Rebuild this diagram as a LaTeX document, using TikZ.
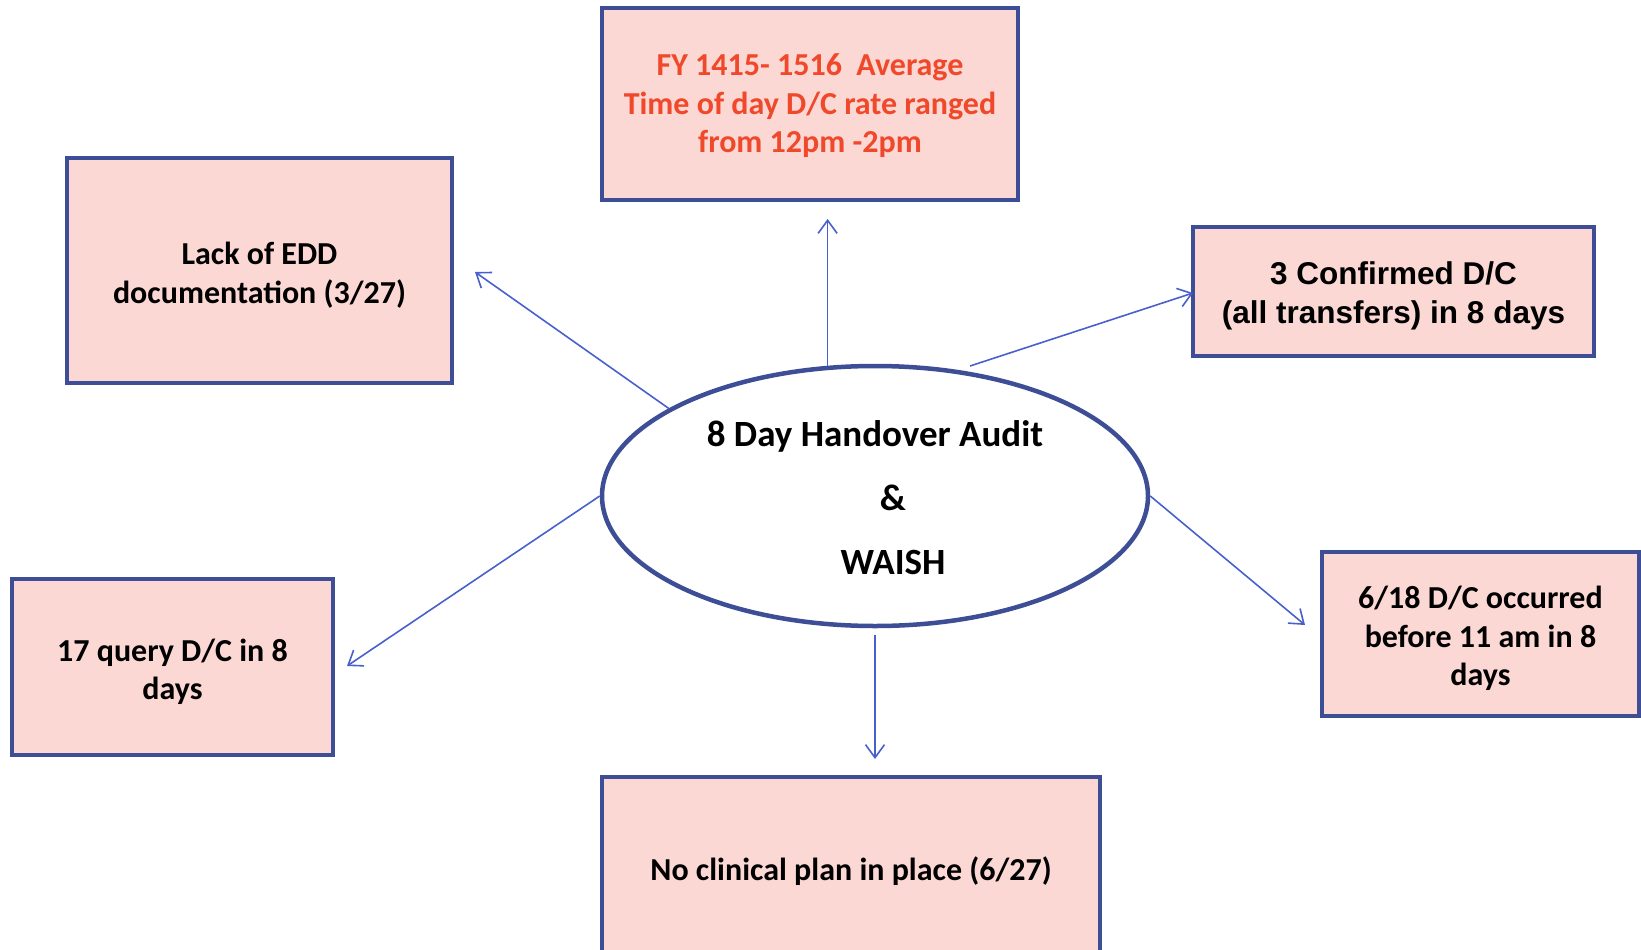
\documentclass[tikz,border=0pt]{standalone}
\usepackage{fontspec}
\setmainfont{Carlito}
\newfontfamily\arialf{Liberation Sans}
\usetikzlibrary{arrows.meta,shapes.geometric}
\definecolor{boxblue}{RGB}{62,78,150}
\definecolor{arrblue}{RGB}{72,96,204}
\definecolor{boxpink}{RGB}{251,216,211}
\definecolor{redtxt}{RGB}{240,72,42}
\newcommand\tstrut{\rule{0pt}{1em}}
\newcommand\estrut{\rule{0pt}{0.8em}}
\tikzset{
  infobox/.style={rectangle, draw=boxblue, line width=4pt, fill=boxpink, align=center, inner sep=0pt,
    font=\bfseries\fontsize{32}{38.5}\selectfont},
  arr/.style={draw=arrblue, line width=1.6pt, -{Straight Barb[length=13pt,width=19pt]}},
}
\begin{document}
\begin{tikzpicture}[x=1pt,y=-1pt]
\useasboundingbox (0,0) rectangle (1641,950);
\clip (0,0) rectangle (1641,950);

\node[infobox, minimum width=416, minimum height=192, text=redtxt] (top) at (810,104)
  {\estrut FY 1415- 1516\ \ Average\\Time of day D/C rate ranged\\from 12pm -2pm};
\node[infobox, minimum width=385, minimum height=225] (ul) at (259.5,270.5)
  {\tstrut Lack of EDD\\documentation (3/27)};
\node[infobox, minimum width=401, minimum height=129, font=\arialf\bfseries\fontsize{31.5}{38.5}\selectfont] (ur) at (1393.5,291.5)
  {\tstrut 3 Confirmed D/C\\(all transfers) in 8 days};
\node[infobox, minimum width=321, minimum height=176] (ll) at (172.5,667)
  {\tstrut 17 query D/C in 8\\days};
\node[infobox, minimum width=317, minimum height=164] (lr) at (1480.5,634)
  {\tstrut 6/18 D/C occurred\\before 11 am in 8\\days};
\node[infobox, minimum width=498, minimum height=180] (bot) at (851,867)
  {\tstrut No clinical plan in place (6/27)};

\node[ellipse, draw=boxblue, line width=4.5pt, fill=white, minimum width=546, minimum height=260,
  inner sep=0pt, align=center, font=\bfseries\fontsize{37}{64}\selectfont] (ell) at (875,496)
  {\estrut 8 Day Handover Audit\\\hspace*{36pt}\&\\\hspace*{36pt}WAISH};

\coordinate (tU) at (827,219);
\coordinate (tUL) at (475,272);
\coordinate (sUR) at (970,366);
\coordinate (tUR) at (1193,293);
\coordinate (tLL) at (347,666);
\coordinate (tLR) at (1305,625);
\coordinate (tD) at (875,759);

\draw[arr] (ell.110) -- (ell.110 |- tU);
\draw[arr] (ell.157) -- (tUL);
\draw[arr] (sUR) -- (tUR);
\draw[arr] (ell.west) -- (tLL);
\draw[arr] (ell.east) -- (tLR);
\draw[arr] ([yshift=-7pt]ell.south) -- (tD);
\end{tikzpicture}
\end{document}
